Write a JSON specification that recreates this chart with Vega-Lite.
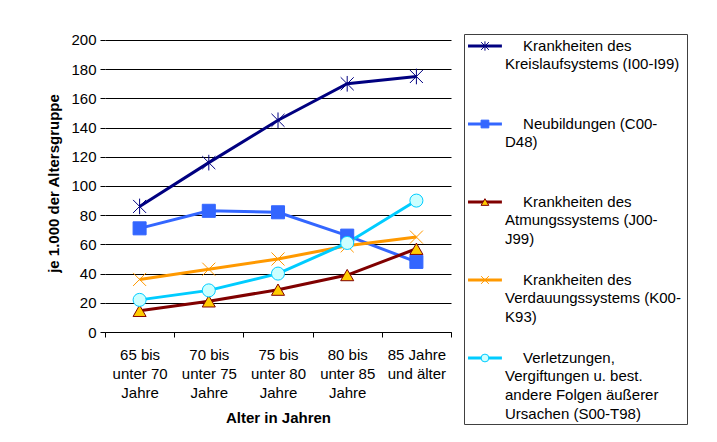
{
  "$schema": "https://vega.github.io/schema/vega-lite/v6.json",
  "padding": {"left": 46, "top": 32, "right": 0, "bottom": 0},
  "background": "white",
  "spacing": 11,
  "config": {"font": "Liberation Sans", "view": {"stroke": null}},
  "datasets": {
    "rates": [
      {"series": "Krankheiten des Kreislaufsystems (I00-I99)", "age": "65 bis|unter 70|Jahre", "value": 86},
      {"series": "Krankheiten des Kreislaufsystems (I00-I99)", "age": "70 bis|unter 75|Jahre", "value": 116},
      {"series": "Krankheiten des Kreislaufsystems (I00-I99)", "age": "75 bis|unter 80|Jahre", "value": 145},
      {"series": "Krankheiten des Kreislaufsystems (I00-I99)", "age": "80 bis|unter 85|Jahre", "value": 170},
      {"series": "Krankheiten des Kreislaufsystems (I00-I99)", "age": "85 Jahre|und älter", "value": 175},
      {"series": "Neubildungen (C00-D48)", "age": "65 bis|unter 70|Jahre", "value": 71},
      {"series": "Neubildungen (C00-D48)", "age": "70 bis|unter 75|Jahre", "value": 83},
      {"series": "Neubildungen (C00-D48)", "age": "75 bis|unter 80|Jahre", "value": 82},
      {"series": "Neubildungen (C00-D48)", "age": "80 bis|unter 85|Jahre", "value": 66},
      {"series": "Neubildungen (C00-D48)", "age": "85 Jahre|und älter", "value": 48},
      {"series": "Krankheiten des Atmungssystems (J00-J99)", "age": "65 bis|unter 70|Jahre", "value": 14.5},
      {"series": "Krankheiten des Atmungssystems (J00-J99)", "age": "70 bis|unter 75|Jahre", "value": 21},
      {"series": "Krankheiten des Atmungssystems (J00-J99)", "age": "75 bis|unter 80|Jahre", "value": 29},
      {"series": "Krankheiten des Atmungssystems (J00-J99)", "age": "80 bis|unter 85|Jahre", "value": 39},
      {"series": "Krankheiten des Atmungssystems (J00-J99)", "age": "85 Jahre|und älter", "value": 57},
      {"series": "Krankheiten des Verdauungssystems (K00-K93)", "age": "65 bis|unter 70|Jahre", "value": 36},
      {"series": "Krankheiten des Verdauungssystems (K00-K93)", "age": "70 bis|unter 75|Jahre", "value": 43},
      {"series": "Krankheiten des Verdauungssystems (K00-K93)", "age": "75 bis|unter 80|Jahre", "value": 50},
      {"series": "Krankheiten des Verdauungssystems (K00-K93)", "age": "80 bis|unter 85|Jahre", "value": 59},
      {"series": "Krankheiten des Verdauungssystems (K00-K93)", "age": "85 Jahre|und älter", "value": 65},
      {"series": "Verletzungen, Vergiftungen u. best. andere Folgen äußerer Ursachen (S00-T98)", "age": "65 bis|unter 70|Jahre", "value": 22},
      {"series": "Verletzungen, Vergiftungen u. best. andere Folgen äußerer Ursachen (S00-T98)", "age": "70 bis|unter 75|Jahre", "value": 28.5},
      {"series": "Verletzungen, Vergiftungen u. best. andere Folgen äußerer Ursachen (S00-T98)", "age": "75 bis|unter 80|Jahre", "value": 40},
      {"series": "Verletzungen, Vergiftungen u. best. andere Folgen äußerer Ursachen (S00-T98)", "age": "80 bis|unter 85|Jahre", "value": 61},
      {"series": "Verletzungen, Vergiftungen u. best. andere Folgen äußerer Ursachen (S00-T98)", "age": "85 Jahre|und älter", "value": 90}
    ],
    "legend": [
      {"series": "Krankheiten des Kreislaufsystems (I00-I99)", "l1": "Krankheiten des", "rest": "Kreislaufsystems (I00-I99)"},
      {"series": "Neubildungen (C00-D48)", "l1": "Neubildungen (C00-", "rest": "D48)"},
      {"series": "Krankheiten des Atmungssystems (J00-J99)", "l1": "Krankheiten des", "rest": "Atmungssystems (J00-\nJ99)"},
      {"series": "Krankheiten des Verdauungssystems (K00-K93)", "l1": "Krankheiten des", "rest": "Verdauungssystems (K00-\nK93)"},
      {"series": "Verletzungen, Vergiftungen u. best. andere Folgen äußerer Ursachen (S00-T98)", "l1": "Verletzungen,", "rest": "Vergiftungen u. best.\nandere Folgen äußerer\nUrsachen (S00-T98)"}
    ]
  },
  "hconcat": [
    {
      "width": 346,
      "height": 298,
      "data": {"name": "rates"},
      "encoding": {
        "x": {
          "field": "age", "type": "ordinal", "bandPosition": 0.5,
          "scale": {"type": "band", "paddingInner": 0, "paddingOuter": 0,
                    "domain": ["65 bis|unter 70|Jahre", "70 bis|unter 75|Jahre", "75 bis|unter 80|Jahre", "80 bis|unter 85|Jahre", "85 Jahre|und älter"]},
          "axis": {
            "title": "Alter in Jahren", "titleFontSize": 15, "titleFontWeight": "bold", "titleColor": "black", "titlePadding": 10,
            "labelAngle": 0, "labelExpr": "split(datum.label, '|')", "labelLineHeight": 19, "labelFontSize": 15, "labelColor": "black", "labelPadding": 10,
            "tickBand": "extent", "tickSize": 5, "tickColor": "black", "domainColor": "black", "grid": false
          }
        },
        "y": {
          "field": "value", "type": "quantitative",
          "scale": {"domain": [0, 204.1], "nice": false, "zero": true},
          "axis": {
            "title": "je 1.000 der Altersgruppe", "titleFontSize": 15, "titleFontWeight": "bold", "titleColor": "black", "titlePadding": 9,
            "values": [0, 20, 40, 60, 80, 100, 120, 140, 160, 180, 200],
            "labelFontSize": 15, "labelColor": "black", "labelPadding": 4, "domain": false,
            "tickSize": 5, "tickColor": "black", "gridColor": "black", "gridOpacity": 1
          }
        }
      },
      "layer": [
        {
          "data": {"values": [{"edge": "right"}]},
          "mark": {"type": "rule", "color": "#808080", "strokeWidth": 1},
          "encoding": {
            "x": {"datum": "85 Jahre|und älter", "bandPosition": 1},
            "y": {"datum": 0},
            "y2": {"datum": 200}
          }
        },
        {
          "data": {"values": [{"edge": "left"}]},
          "mark": {"type": "rule", "color": "black", "strokeWidth": 1},
          "encoding": {
            "x": {"datum": "65 bis|unter 70|Jahre", "bandPosition": 0},
            "y": {"datum": 0},
            "y2": {"datum": 200}
          }
        },
        {
          "mark": {"type": "line", "strokeWidth": 3},
          "encoding": {
            "stroke": {"field": "series", "type": "nominal", "legend": null,
              "scale": {"domain": ["Krankheiten des Kreislaufsystems (I00-I99)", "Neubildungen (C00-D48)", "Krankheiten des Atmungssystems (J00-J99)", "Krankheiten des Verdauungssystems (K00-K93)", "Verletzungen, Vergiftungen u. best. andere Folgen äußerer Ursachen (S00-T98)"],
                        "range": ["#000080", "#3366FF", "#800000", "#FF9900", "#00CCFF"]}}
          }
        },
        {
          "mark": {"type": "point", "filled": true, "opacity": 1, "strokeWidth": 1, "size": 170},
          "encoding": {
            "stroke": {"field": "series", "type": "nominal", "legend": null},
            "fill": {"field": "series", "type": "nominal", "legend": null,
              "scale": {"domain": ["Krankheiten des Kreislaufsystems (I00-I99)", "Neubildungen (C00-D48)", "Krankheiten des Atmungssystems (J00-J99)", "Krankheiten des Verdauungssystems (K00-K93)", "Verletzungen, Vergiftungen u. best. andere Folgen äußerer Ursachen (S00-T98)"],
                        "range": ["transparent", "#3366FF", "#FFCC00", "transparent", "#CCFFFF"]}},
            "shape": {"field": "series", "type": "nominal", "legend": null,
              "scale": {"domain": ["Krankheiten des Kreislaufsystems (I00-I99)", "Neubildungen (C00-D48)", "Krankheiten des Atmungssystems (J00-J99)", "Krankheiten des Verdauungssystems (K00-K93)", "Verletzungen, Vergiftungen u. best. andere Folgen äußerer Ursachen (S00-T98)"],
                        "range": ["M-1,-1L1,1M-1,1L1,-1M0,-1.2V1.2", "square", "triangle-up", "M-1,-1L1,1M-1,1L1,-1", "circle"]}}
          }
        }
      ]
    },
    {
      "width": 223,
      "height": 390,
      "view": {"stroke": "#404040"},
      "data": {"name": "legend"},
      "encoding": {
        "y": {"field": "series", "type": "nominal", "bandPosition": 0.154, "axis": null,
              "scale": {"type": "band", "paddingInner": 0, "paddingOuter": 0,
                        "domain": ["Krankheiten des Kreislaufsystems (I00-I99)", "Neubildungen (C00-D48)", "Krankheiten des Atmungssystems (J00-J99)", "Krankheiten des Verdauungssystems (K00-K93)", "Verletzungen, Vergiftungen u. best. andere Folgen äußerer Ursachen (S00-T98)"]}}
      },
      "layer": [
        {
          "mark": {"type": "rule", "strokeWidth": 3},
          "encoding": {
            "x": {"datum": 1.8, "type": "quantitative", "scale": {"domain": [0, 100]}, "axis": null},
            "x2": {"datum": 17},
            "stroke": {"field": "series", "type": "nominal", "legend": null}
          }
        },
        {
          "mark": {"type": "point", "filled": true, "opacity": 1, "strokeWidth": 1, "size": 60},
          "encoding": {
            "x": {"datum": 9.4, "type": "quantitative"},
            "stroke": {"field": "series", "type": "nominal", "legend": null},
            "fill": {"field": "series", "type": "nominal", "legend": null},
            "shape": {"field": "series", "type": "nominal", "legend": null}
          }
        },
        {
          "mark": {"type": "text", "align": "left", "baseline": "middle", "fontSize": 15, "color": "black"},
          "encoding": {
            "x": {"datum": 26.5, "type": "quantitative"},
            "text": {"field": "l1"}
          }
        },
        {
          "mark": {"type": "text", "align": "left", "baseline": "top", "fontSize": 15, "color": "black", "lineBreak": "\n", "lineHeight": 19},
          "encoding": {
            "x": {"datum": 18.4, "type": "quantitative"},
            "y": {"field": "series", "type": "nominal", "bandPosition": 0.30, "axis": null},
            "text": {"field": "rest"}
          }
        }
      ]
    }
  ]
}
